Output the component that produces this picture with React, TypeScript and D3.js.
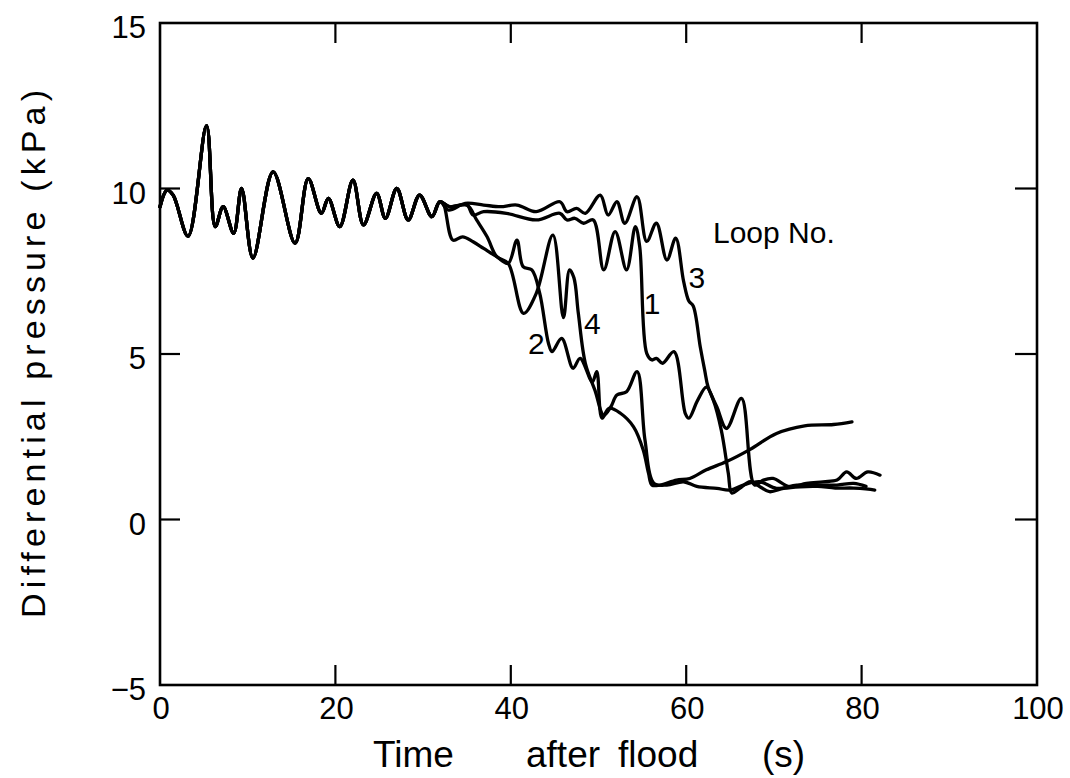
import React from "react";
import * as d3 from "d3";

// Shared trace (all four loops coincide until ~32 s)
const commonT = [0, 0.8, 1.5, 3.2, 5.3, 6.3, 7.2, 8.4, 9.3, 10.6, 12.9, 15.4, 16.9, 18.4, 19.2, 20.5, 22.0, 23.2, 24.7, 25.7, 27.0, 28.3, 29.6, 31.0, 31.9];
const commonP = [9.45, 9.95, 9.8, 8.56, 11.9, 8.85, 9.45, 8.65, 10.0, 7.9, 10.5, 8.35, 10.3, 9.25, 9.7, 8.85, 10.25, 8.9, 9.85, 9.1, 10.0, 9.05, 9.8, 9.15, 9.6];

const loop1T = [33.0, 35.0, 35.7, 36.9, 39.5, 42.9, 45.6, 46.4, 47.3, 48.3, 49.4, 50.6, 51.9, 53.2, 54.2, 54.7, 55.5, 56.1, 56.6, 57.3, 58.6, 59.9, 60.3, 61.3, 62.3, 63.1, 64.0, 64.8, 65.2, 66.1, 67.3, 68.4, 69.5, 71.1, 73.0, 75.0, 77.0, 79.1, 81.5];
const loop1P = [9.45, 9.5, 9.2, 9.3, 9.25, 9.05, 9.25, 9.05, 9.1, 8.95, 9.05, 7.54, 8.7, 7.54, 8.85, 8.24, 5.02, 4.82, 4.87, 4.72, 5.07, 3.2, 3.06, 3.6, 4.0, 3.6, 2.7, 1.4, 0.8, 0.94, 1.14, 0.99, 0.84, 0.94, 0.99, 1.0, 0.95, 0.95, 0.89];

const loop2T = [32.3, 33.4, 34.5, 35.7, 36.9, 38.4, 39.7, 40.7, 41.4, 42.4, 43.3, 44.3, 44.7, 45.8, 47.1, 47.9, 49.3, 49.8, 50.4, 51.2, 52.5, 54.0, 55.1, 55.7, 56.1, 57.0, 58.9, 60.4, 62.3, 64.6, 67.3, 70.3, 73.5, 76.8, 78.9];
const loop2P = [9.55, 8.44, 8.54, 8.39, 8.19, 7.94, 7.74, 8.44, 7.64, 7.54, 6.83, 5.32, 5.07, 5.47, 4.57, 4.87, 4.16, 4.47, 3.06, 3.36, 3.21, 2.8, 2.1, 1.4, 1.04, 1.04, 1.19, 1.24, 1.5, 1.75, 2.12, 2.6, 2.83, 2.87, 2.95];

const loop3T = [32.9, 34.8, 36.9, 38.8, 40.7, 42.9, 45.6, 46.4, 47.5, 48.5, 50.2, 51.1, 52.1, 53.0, 54.4, 55.5, 56.6, 57.8, 58.8, 59.7, 60.3, 60.8, 61.6, 62.1, 62.5, 63.5, 64.6, 66.3, 67.8, 68.8, 69.9, 71.8, 73.7, 75.6, 77.2, 78.3, 79.4, 80.7, 82.1];
const loop3P = [9.35, 9.55, 9.5, 9.45, 9.5, 9.3, 9.6, 9.3, 9.4, 9.25, 9.8, 9.2, 9.6, 8.95, 9.75, 8.4, 8.95, 7.84, 8.5, 7.2, 6.6, 6.45, 5.22, 4.52, 4.0, 3.4, 2.75, 3.66, 1.04, 1.19, 1.24, 0.99, 1.09, 1.14, 1.19, 1.44, 1.24, 1.44, 1.34];

const loop4T = [33.0, 35.0, 36.1, 37.3, 38.4, 39.7, 41.45, 42.9, 44.8, 46.0, 46.7, 47.2, 47.7, 48.5, 49.6, 50.6, 51.4, 52.1, 53.2, 54.4, 55.3, 56.3, 57.8, 59.7, 61.2, 63.5, 65.0, 66.5, 68.4, 70.3, 72.6, 74.9, 77.2, 79.1, 80.5];
const loop4P = [9.45, 9.5, 9.05, 8.54, 7.94, 7.74, 6.23, 6.83, 8.59, 6.1, 7.54, 7.3, 6.23, 4.72, 3.9, 3.15, 3.4, 3.76, 3.86, 4.47, 2.4, 1.1, 1.04, 1.14, 1.0, 0.94, 0.89, 1.04, 1.14, 0.94, 1.04, 1.04, 1.04, 1.09, 1.0];

const loopNames = ["1", "2", "3", "4"];
const loopLabelT = [56.1, 42.9, 61.2, 49.3];
const loopLabelP = [6.2, 5.0, 7.0, 5.6];

const xTicks = [0, 20, 40, 60, 80, 100];
const yTicks = [15, 10, 5, 0, -5];
const innerXTicks = [20, 40, 60, 80];
const innerYTicks = [0, 5, 10];

const xLabel = ["Time", "after", "flood", "(s)"];
const yLabel = "Differential pressure (kPa)";
const legendTitle = "Loop No.";

export default function App() {
  const W = 1070, H = 778;
  const x = d3.scaleLinear().domain([0, 100]).range([160, 1037]);
  const y = d3.scaleLinear().domain([-5, 15]).range([685, 23]);
  const line = d3
    .line<[number, number]>()
    .x((d) => x(d[0]))
    .y((d) => y(d[1]))
    .curve(d3.curveCatmullRom.alpha(0.5));

  const mk = (t: number[], p: number[]): [number, number][] =>
    commonT.map((v, i) => [v, commonP[i]] as [number, number]).concat(t.map((v, i) => [v, p[i]] as [number, number]));
  const loops = [mk(loop1T, loop1P), mk(loop2T, loop2P), mk(loop3T, loop3P), mk(loop4T, loop4P)];

  const font = "'Liberation Sans', Arial, sans-serif";
  const x0 = x(0), x1 = x(100), yTop = y(15), yBot = y(-5);
  const wordX = [373, 526, 618, 762];

  return (
    <svg width={W} height={H} style={{ position: "absolute", left: 0, top: 0, background: "#fff" }} fontFamily={font}>
      <rect x={0} y={0} width={W} height={H} fill="#fff" />
      {/* frame */}
      <rect x={x0} y={yTop} width={x1 - x0} height={yBot - yTop} fill="none" stroke="#000" strokeWidth={2.6} />
      {innerXTicks.map((v) => (
        <g key={"xt" + v}>
          <line x1={x(v)} x2={x(v)} y1={yBot} y2={yBot - 20} stroke="#000" strokeWidth={2.2} />
          <line x1={x(v)} x2={x(v)} y1={yTop} y2={yTop + 20} stroke="#000" strokeWidth={2.2} />
        </g>
      ))}
      {innerYTicks.map((v) => (
        <g key={"yt" + v}>
          <line x1={x0} x2={x0 + 20} y1={y(v)} y2={y(v)} stroke="#000" strokeWidth={2.2} />
          <line x1={x1} x2={x1 - 22} y1={y(v)} y2={y(v)} stroke="#000" strokeWidth={2.2} />
        </g>
      ))}
      {xTicks.map((v) => (
        <text key={"xl" + v} x={x(v) + 1} y={719} fontSize={31} textAnchor="middle">
          {v}
        </text>
      ))}
      {yTicks.map((v) => (
        <text key={"yl" + v} x={146} y={y(v) + 15} fontSize={31} textAnchor="end">
          {v < 0 ? "\u2212" + Math.abs(v) : v}
        </text>
      ))}
      {/* curves */}
      {loops.map((d, i) => (
        <path key={"c" + i} d={line(d) || ""} fill="none" stroke="#000" strokeWidth={3.3} strokeLinejoin="round" strokeLinecap="round" />
      ))}
      {loopNames.map((n, i) => (
        <text key={"ln" + n} x={x(loopLabelT[i])} y={y(loopLabelP[i])} fontSize={30} textAnchor="middle">
          {n}
        </text>
      ))}
      <text x={713} y={243} fontSize={30}>
        {legendTitle}
      </text>
      {/* axis titles */}
      <text y={767} fontSize={37}>
        {xLabel.map((w, i) => (
          <tspan key={w} x={wordX[i]}>
            {w}
          </tspan>
        ))}
      </text>
      <text
        transform={`translate(45, ${354}) rotate(-90)`}
        fontSize={34}
        textAnchor="middle"
        textLength={528}
        lengthAdjust="spacing"
      >
        {yLabel}
      </text>
    </svg>
  );
}
